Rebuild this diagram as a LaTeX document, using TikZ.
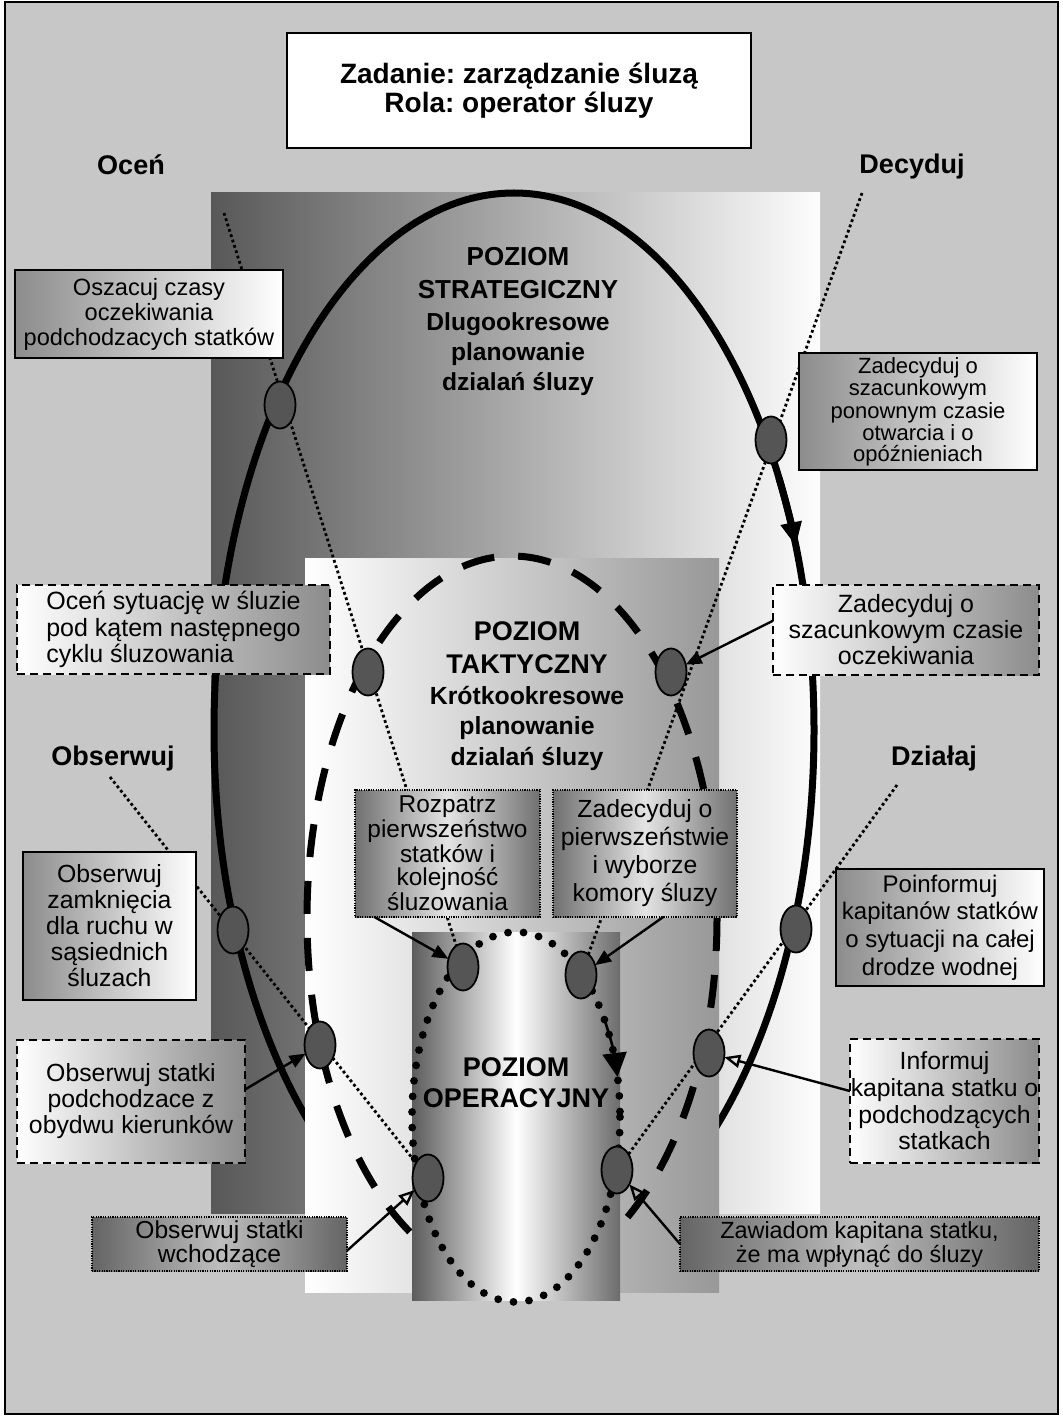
\documentclass[tikz,border=0pt]{standalone}
\usepackage{fontspec}
\setmainfont{Liberation Sans}
\usetikzlibrary{shapes.geometric,arrows.meta}
\frenchspacing
\definecolor{bggray}{RGB}{199,199,199}
\definecolor{strL}{RGB}{88,88,88}
\definecolor{strR}{RGB}{253,253,253}
\definecolor{takR}{RGB}{152,152,152}
\definecolor{opL}{RGB}{92,92,92}
\definecolor{opR}{RGB}{108,108,108}
\definecolor{markc}{RGB}{85,85,85}
\definecolor{boxg}{RGB}{140,140,140}
\definecolor{metD}{RGB}{112,112,112}
\definecolor{metL}{RGB}{228,228,228}
\definecolor{metDd}{RGB}{100,100,100}
\definecolor{metLd}{RGB}{190,190,190}
\begin{document}
\begin{tikzpicture}[x=0.5pt,y=-0.5pt,
  every node/.style={inner sep=0pt, outer sep=0pt},
  sbox/.style={draw, line width=1.2pt, left color=boxg, right color=white, align=center},
  dbox/.style={draw, line width=1.2pt, dash pattern=on 4pt off 2.5pt, left color=white, right color=boxg, align=center},
  tbox/.style={draw, line width=1.2pt, dash pattern=on 0.6pt off 0.6pt, left color=metD, right color=metD, middle color=metL, align=center},
  ubox/.style={draw, line width=1.2pt, dash pattern=on 0.6pt off 0.6pt, left color=metDd, right color=metDd, middle color=metLd, align=center},
  marker/.style={ellipse, draw, line width=0.9pt, fill=markc, minimum width=15.5pt, minimum height=23.5pt},
  dotline/.style={line width=1.4pt, dash pattern=on 1.4pt off 1.4pt},
  conn/.style={line width=1.2pt, -{Triangle[length=8pt,width=6.5pt]}},
  connopen/.style={line width=1.2pt, -{Triangle[open,length=8pt,width=6.5pt]}},
  lvl/.style={font=\bfseries\fontsize{13.5}{16.5}\selectfont, align=center},
  sub/.style={font=\bfseries\fontsize{12.4}{15}\selectfont, align=center},
  phase/.style={font=\bfseries\fontsize{13.5}{16}\selectfont},
]
\useasboundingbox (0,0) rectangle (1063,1417);
\fill[white] (0,0) rectangle (1063,1417);
\draw[line width=1pt, fill=bggray] (5,2.5) rectangle (1057.5,1414);

% level backgrounds and loops
\shade[left color=strL, right color=strR] (211,193) rectangle (820,1213);
\draw[line width=3.5pt] (514,730) ellipse [x radius=300, y radius=537];
\draw[line width=3.5pt, -{Triangle[length=12pt,width=10pt]}] (514,730) ++(-28:300 and 537)
  arc[start angle=-28, end angle=-20, x radius=300, y radius=537];

\shade[left color=white, right color=takR] (305,558) rectangle (719,1292);
\draw[line width=3.5pt, dash pattern=on 16.5pt off 12pt] (512,918) ellipse [x radius=205, y radius=362];

\shade[left color=opL, right color=opR, middle color=white] (412,932) rectangle (620,1300);
\draw[line width=3.9pt, line cap=round, dash pattern=on 0pt off 7.8pt] (516,1117) ellipse [x radius=104, y radius=185];
\draw[line width=1.3pt, -{Triangle[length=12pt,width=12pt]}] (516,1117) ++(-32:104 and 185)
  arc[start angle=-32, end angle=-12.5, x radius=104, y radius=185];

% marker positions
\coordinate (p1) at (280,405);
\coordinate (p2) at (771,440);
\coordinate (p3) at (368,672);
\coordinate (p4) at (671,672);
\coordinate (p5) at (233,930);
\coordinate (p6) at (796,929);
\coordinate (p7) at (320,1045);
\coordinate (p8) at (709,1053);
\coordinate (p9) at (463,967);
\coordinate (p10) at (581,975);
\coordinate (p11) at (428,1178);
\coordinate (p12) at (617,1170);

% dotted lines
\coordinate (cA) at (224,213);
\coordinate (cB) at (862,193);
\coordinate (cC) at (110,777);
\coordinate (cD) at (897,785);
\draw[dotline] (cA) -- (p9);
\draw[dotline] (cB) -- (p10);
\draw[dotline] (cC) -- (p11);
\draw[dotline] (cD) -- (p12);

% boxes
\node[sbox, minimum width=134pt, minimum height=44pt, font=\fontsize{11.8}{12.5}\selectfont] (bOs) at (149,314) {Oszacuj czasy\\oczekiwania\\podchodzacych statków};
\node[sbox, minimum width=119pt, minimum height=58.5pt, font=\fontsize{11}{10.2}\selectfont] (bZo) at (918,411.5) {Zadecyduj o\\szacunkowym\\ponownym czasie\\otwarcia i o\\opóźnieniach};
\node[dbox, align=left, minimum width=156.5pt, minimum height=44.5pt, font=\fontsize{12.5}{13.3}\selectfont] (bOc) at (173.5,629.5) {Oceń sytuację w śluzie\\pod kątem następnego\\cyklu śluzowania};
\node[dbox, minimum width=133pt, minimum height=45pt, font=\fontsize{12.5}{13}\selectfont] (bZs) at (906,630) {Zadecyduj o\\szacunkowym czasie\\oczekiwania};
\node[sbox, minimum width=86.5pt, minimum height=74pt, font=\fontsize{12.4}{13}\selectfont] (bOz) at (109.5,926) {Obserwuj\\zamknięcia\\dla ruchu w\\sąsiednich\\śluzach};
\node[dbox, minimum width=114pt, minimum height=61.5pt, font=\fontsize{12.4}{13}\selectfont] (bOp) at (131,1101.5) {Obserwuj statki\\podchodzace z\\obydwu kierunków};
\node[sbox, minimum width=104pt, minimum height=58.5pt, font=\fontsize{12}{13.8}\selectfont] (bPo) at (940,927.5) {Poinformuj\\kapitanów statków\\o sytuacji na całej\\drodze wodnej};
\node[dbox, minimum width=94.5pt, minimum height=62pt, font=\fontsize{12.4}{13.3}\selectfont] (bIn) at (944.5,1101) {Informuj\\kapitana statku o\\podchodzących\\statkach};
\node[tbox, minimum width=92.5pt, minimum height=63.5pt, font=\fontsize{12.2}{11.5}\selectfont] (bRo) at (447.5,853.5) {Rozpatrz\\pierwszeństwo\\statków i\\kolejność\\śluzowania};
\node[tbox, minimum width=92pt, minimum height=63.5pt, font=\fontsize{12.4}{14}\selectfont] (bZp) at (645,853.5) {Zadecyduj o\\pierwszeństwie\\i wyborze\\komory śluzy};
\node[ubox, minimum width=127.5pt, minimum height=27pt, font=\fontsize{12.3}{12}\selectfont] (bOw) at (219.5,1244) {Obserwuj statki\\wchodzące};
\node[ubox, minimum width=179.5pt, minimum height=27pt, font=\fontsize{11.7}{12}\selectfont] (bZk) at (859.5,1244) {Zawiadom kapitana statku,\\że ma wpłynąć do śluzy};

% markers
\node[marker] (m1) at (p1) {};
\node[marker] (m2) at (p2) {};
\node[marker] (m3) at (p3) {};
\node[marker] (m4) at (p4) {};
\node[marker] (m5) at (p5) {};
\node[marker] (m6) at (p6) {};
\node[marker] (m7) at (p7) {};
\node[marker] (m8) at (p8) {};
\node[marker] (m9) at (p9) {};
\node[marker] (m10) at (p10) {};
\node[marker] (m11) at (p11) {};
\node[marker] (m12) at (p12) {};

% connectors
\draw[conn] (bZs.176) -- (m4);
\draw[conn] (bOp.6.6) -- (m7);
\draw[connopen] (bIn.174.7) -- (m8);
\draw[conn] (bRo.221) -- (m9);
\draw[conn] (bZp.286) -- (m10);
\draw[connopen] (bOw.-3.4) -- (m11);
\draw[connopen] (bZk.west) -- (m12);

% level texts
\node[lvl, font=\bfseries\fontsize{13}{16.5}\selectfont] (tS1) at (518,273) {POZIOM\\STRATEGICZNY};
\node[sub, font=\bfseries\fontsize{12.3}{15}\selectfont] (tS2) at (518,354) {Dlugookresowe\\planowanie\\dzialań śluzy};
\node[lvl] (tT1) at (527,648) {POZIOM\\TAKTYCZNY};
\node[sub, font=\bfseries\fontsize{12.4}{15.25}\selectfont] (tT2) at (527,728) {Krótkookresowe\\planowanie\\dzialań śluzy};
\node[lvl, font=\bfseries\fontsize{13.5}{15.5}\selectfont] (tO) at (516,1083) {POZIOM\\OPERACYJNY};

% phase labels
\node[phase] (lOc) at (131,165) {Oceń};
\node[phase] (lDe) at (912,167) {Decyduj};
\node[phase] (lOb) at (113,759) {Obserwuj};
\node[phase] (lDz) at (934,759) {Działaj};

% title
\node[draw, line width=1.2pt, fill=white, minimum width=232pt, minimum height=57.5pt, align=center, font=\bfseries\fontsize{14}{14.5}\selectfont] (title) at (519,90.5) {Zadanie: zarządzanie śluzą\\Rola: operator śluzy};
\end{tikzpicture}
\end{document}
